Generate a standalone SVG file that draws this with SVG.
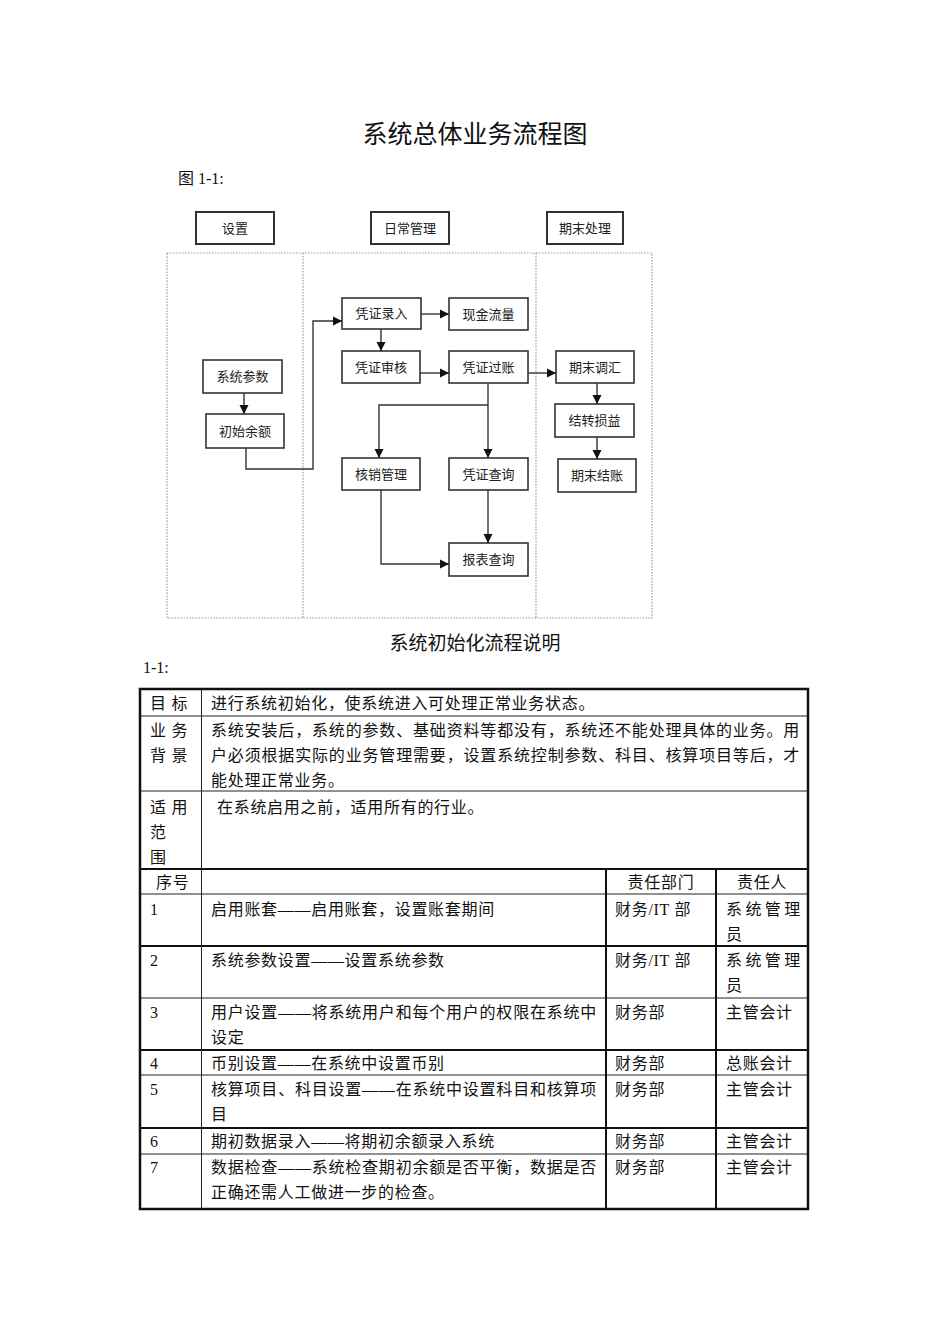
<svg xmlns="http://www.w3.org/2000/svg" width="950" height="1344" viewBox="0 0 950 1344">
<style>
.serif{font-family:"Liberation Serif","Noto Sans CJK SC",serif;fill:#111}
.t16{font-size:16px;letter-spacing:0.7px}
.box rect{fill:#fff;stroke:#333;stroke-width:1.6}
.box text{font-family:"Noto Sans CJK SC","Liberation Sans",sans-serif;font-size:13px;fill:#222;text-anchor:middle}
.hdr rect{stroke-width:2}
.lane{fill:none;stroke:#999;stroke-width:1.2;stroke-dasharray:1.5 1.5}
.conn path{fill:none;stroke:#333;stroke-width:1.4}
.thin{stroke:#222;stroke-width:1;fill:none}
.thick{stroke:#111;stroke-width:2;fill:none}
</style>
<defs>
<marker id="ar" markerWidth="10" markerHeight="10" refX="9" refY="5" orient="auto" markerUnits="userSpaceOnUse">
<path d="M0,0.5 L9,5 L0,9.5 Z" fill="#111"/>
</marker>
</defs>
<rect width="950" height="1344" fill="#fff"/>
<text class="serif" x="475" y="143" font-size="25" text-anchor="middle">系统总体业务流程图</text>
<text class="serif" x="178" y="184" font-size="16">图 1-1:</text>

<g id="lanes">
<rect class="lane" x="167" y="253" width="485" height="365"/>
<line class="lane" x1="303" y1="253" x2="303" y2="618"/>
<line class="lane" x1="536" y1="253" x2="536" y2="618"/>
</g>

<g id="h-setup" class="box hdr"><rect x="196" y="212" width="78" height="32"/><text x="235" y="233">设置</text></g>
<g id="h-daily" class="box hdr"><rect x="371" y="212" width="78" height="32"/><text x="410" y="233">日常管理</text></g>
<g id="h-end" class="box hdr"><rect x="547" y="212" width="76" height="32"/><text x="585" y="233">期末处理</text></g>

<g id="n-xtcs" class="box"><rect x="203" y="360" width="79" height="33"/><text x="242.5" y="381">系统参数</text></g>
<g id="n-csye" class="box"><rect x="206" y="414" width="78" height="34"/><text x="245" y="436">初始余额</text></g>
<g id="n-pzlr" class="box"><rect x="342" y="298" width="79" height="31"/><text x="381.5" y="318">凭证录入</text></g>
<g id="n-xjll" class="box"><rect x="449" y="298" width="79" height="32"/><text x="488.5" y="319">现金流量</text></g>
<g id="n-pzsh" class="box"><rect x="342" y="351" width="78" height="32"/><text x="381" y="372">凭证审核</text></g>
<g id="n-pzgz" class="box"><rect x="449" y="351" width="79" height="32"/><text x="488.5" y="372">凭证过账</text></g>
<g id="n-qmth" class="box"><rect x="556" y="351" width="78" height="32"/><text x="595" y="372">期末调汇</text></g>
<g id="n-jzsy" class="box"><rect x="555" y="404" width="79" height="33"/><text x="594.5" y="425">结转损益</text></g>
<g id="n-qmjz" class="box"><rect x="558" y="459" width="78" height="33"/><text x="597" y="480">期末结账</text></g>
<g id="n-hxgl" class="box"><rect x="342" y="458" width="78" height="32"/><text x="381" y="479">核销管理</text></g>
<g id="n-pzcx" class="box"><rect x="449" y="458" width="79" height="32"/><text x="488.5" y="479">凭证查询</text></g>
<g id="n-bbcx" class="box"><rect x="449" y="543" width="79" height="33"/><text x="488.5" y="564">报表查询</text></g>

<g id="connectors" class="conn">
<path d="M244,393 V414" marker-end="url(#ar)"/>
<path d="M246,448 V469 H313 V321 H342" marker-end="url(#ar)"/>
<path d="M381,329 V351" marker-end="url(#ar)"/>
<path d="M421,314 H449" marker-end="url(#ar)"/>
<path d="M420,373 H449" marker-end="url(#ar)"/>
<path d="M528,373 H556" marker-end="url(#ar)"/>
<path d="M597,383 V404" marker-end="url(#ar)"/>
<path d="M597,437 V459" marker-end="url(#ar)"/>
<path d="M488,383 V458" marker-end="url(#ar)"/>
<path d="M488,405 H379 V458" marker-end="url(#ar)"/>
<path d="M488,490 V543" marker-end="url(#ar)"/>
<path d="M381,490 V564 H449" marker-end="url(#ar)"/>
</g>

<text class="serif" x="475" y="650" font-size="19" text-anchor="middle">系统初始化流程说明</text>
<text class="serif" x="143" y="673" font-size="16">1-1:</text>

<g id="table">
<line class="thin" x1="140" y1="716" x2="808" y2="716"/>
<line class="thin" x1="140" y1="791" x2="808" y2="791"/>
<line class="thick" x1="140" y1="869" x2="808" y2="869"/>
<line class="thin" x1="140" y1="894" x2="808" y2="894"/>
<line class="thick" x1="140" y1="946" x2="808" y2="946"/>
<line class="thin" x1="140" y1="998" x2="808" y2="998"/>
<line class="thick" x1="140" y1="1050" x2="808" y2="1050"/>
<line class="thin" x1="140" y1="1075" x2="808" y2="1075"/>
<line class="thick" x1="140" y1="1128" x2="808" y2="1128"/>
<line class="thin" x1="140" y1="1154" x2="808" y2="1154"/>
<line class="thin" x1="201.5" y1="689" x2="201.5" y2="1209"/>
<line class="thick" x1="606" y1="869" x2="606" y2="1209"/>
<line class="thick" x1="716" y1="869" x2="716" y2="1209"/>
<rect x="140" y="689" width="668" height="520" fill="none" stroke="#111" stroke-width="2.5"/>

<g class="serif t16">
<text x="150" y="709">目 标</text>
<text x="211" y="709">进行系统初始化，使系统进入可处理正常业务状态。</text>
<text x="150" y="736">业 务</text>
<text x="150" y="761">背 景</text>
<text x="211" y="736" textLength="589" lengthAdjust="spacing">系统安装后，系统的参数、基础资料等都没有，系统还不能处理具体的业务。用</text>
<text x="211" y="761" textLength="589" lengthAdjust="spacing">户必须根据实际的业务管理需要，设置系统控制参数、科目、核算项目等后，才</text>
<text x="211" y="786">能处理正常业务。</text>
<text x="150" y="813">适 用</text>
<text x="150" y="838">范</text>
<text x="150" y="863">围</text>
<text x="217" y="813">在系统启用之前，适用所有的行业。</text>

<text x="156" y="888">序号</text>
<text x="661" y="888" text-anchor="middle">责任部门</text>
<text x="762" y="888" text-anchor="middle">责任人</text>

<text x="150" y="915">1</text>
<text x="211" y="915">启用账套——启用账套，设置账套期间</text>
<text x="615" y="915">财务/IT 部</text>
<text x="726" y="915" textLength="75" lengthAdjust="spacing">系统管理</text>
<text x="726" y="940">员</text>

<text x="150" y="966">2</text>
<text x="211" y="966">系统参数设置——设置系统参数</text>
<text x="615" y="966">财务/IT 部</text>
<text x="726" y="966" textLength="75" lengthAdjust="spacing">系统管理</text>
<text x="726" y="991">员</text>

<text x="150" y="1018">3</text>
<text x="211" y="1018" textLength="386" lengthAdjust="spacing">用户设置——将系统用户和每个用户的权限在系统中</text>
<text x="211" y="1043">设定</text>
<text x="615" y="1018">财务部</text>
<text x="726" y="1018">主管会计</text>

<text x="150" y="1069">4</text>
<text x="211" y="1069">币别设置——在系统中设置币别</text>
<text x="615" y="1069">财务部</text>
<text x="726" y="1069">总账会计</text>

<text x="150" y="1095">5</text>
<text x="211" y="1095" textLength="386" lengthAdjust="spacing">核算项目、科目设置——在系统中设置科目和核算项</text>
<text x="211" y="1120">目</text>
<text x="615" y="1095">财务部</text>
<text x="726" y="1095">主管会计</text>

<text x="150" y="1147">6</text>
<text x="211" y="1147">期初数据录入——将期初余额录入系统</text>
<text x="615" y="1147">财务部</text>
<text x="726" y="1147">主管会计</text>

<text x="150" y="1173">7</text>
<text x="211" y="1173" textLength="386" lengthAdjust="spacing">数据检查——系统检查期初余额是否平衡，数据是否</text>
<text x="211" y="1198">正确还需人工做进一步的检查。</text>
<text x="615" y="1173">财务部</text>
<text x="726" y="1173">主管会计</text>
</g>
</g>
</svg>
